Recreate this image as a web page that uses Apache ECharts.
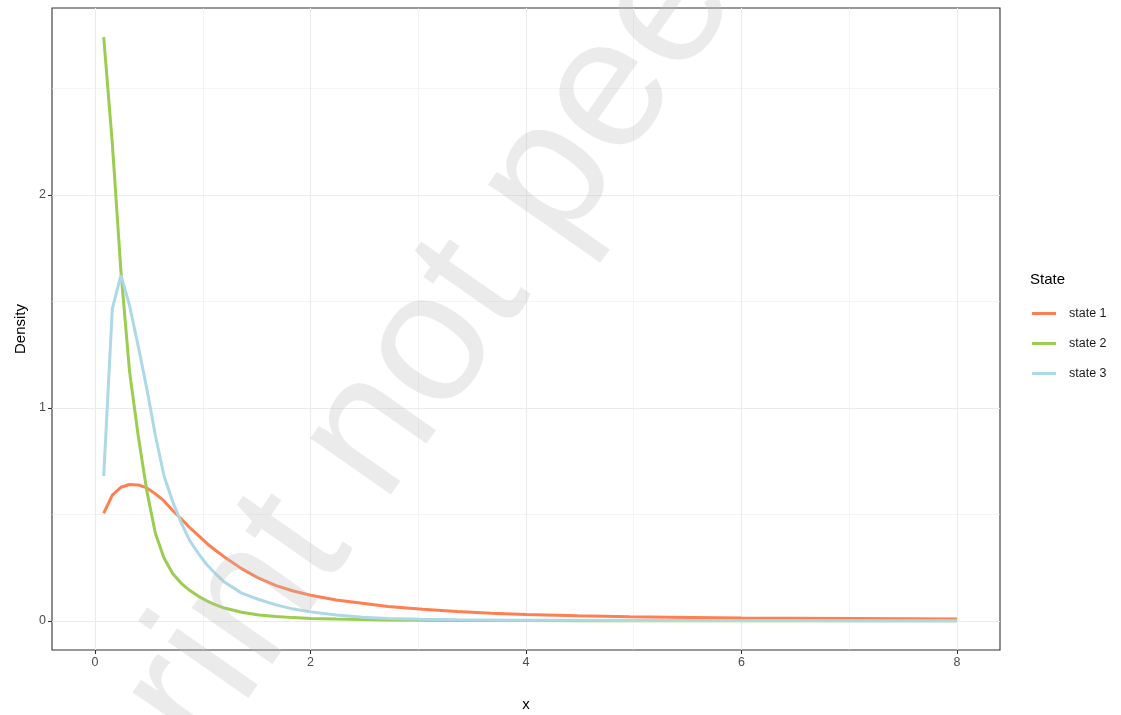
<!DOCTYPE html>
<html>
<head>
<meta charset="utf-8">
<script src="https://cdn.jsdelivr.net/npm/echarts@6/dist/echarts.min.js"></script>
<style>html,body{margin:0;padding:0;background:#fff}#c{width:1121px;height:715px}</style>
</head>
<body>
<div id="c"></div>
<script>
const xValues = [0.08,0.16,0.24,0.32,0.40,0.48,0.56,0.64,0.72,0.80,0.88,0.96,1.04,1.12,1.20,1.36,1.52,1.68,1.84,2.00,2.24,2.48,2.72,3.04,3.36,3.68,4.00,4.48,4.96,5.52,6.00,6.48,7.04,7.52,8.00];
const state1 = [0.505,0.590,0.627,0.640,0.638,0.624,0.596,0.563,0.518,0.478,0.437,0.400,0.362,0.330,0.300,0.245,0.200,0.165,0.140,0.120,0.098,0.082,0.067,0.054,0.044,0.036,0.030,0.024,0.019,0.016,0.013,0.012,0.011,0.010,0.009];
const state2 = [2.74,2.24,1.64,1.17,0.87,0.61,0.41,0.295,0.222,0.176,0.142,0.115,0.093,0.075,0.060,0.040,0.027,0.020,0.015,0.011,0.008,0.006,0.004,0.003,0.002,0.0015,0.001,0.0008,0.0006,0.0004,0.0003,0.0002,0.0002,0.0001,0.0001];
const state3 = [0.68,1.466,1.623,1.48,1.29,1.09,0.87,0.68,0.56,0.46,0.375,0.315,0.262,0.220,0.182,0.130,0.100,0.075,0.055,0.042,0.027,0.017,0.011,0.007,0.005,0.004,0.003,0.0025,0.002,0.0015,0.0012,0.001,0.0008,0.0006,0.0005];
const seriesNames = ['state 1','state 2','state 3'];
const seriesColors = ['#FF7F50','#9ACD50','#ADD8E6'];
const xTicks = [0,2,4,6,8];
const xMinor = [1,3,5,7];
const yTicks = [0,1,2];
const yMinor = [0.5,1.5,2.5];

const FONT = 'Liberation Sans, Arial, sans-serif';
const allY = [state1, state2, state3];
const chart = echarts.init(document.getElementById('c'), null, {renderer:'canvas'});

function hiddenAxis(extra) {
  return Object.assign({
    type:'value', axisLine:{show:false, onZero:false}, axisLabel:{show:false},
    splitLine:{show:true, lineStyle:{color:'#ebebeb', width:0.55}}
  }, extra);
}

chart.setOption({
  animation:false,
  backgroundColor:'#ffffff',
  grid:{left:52, right:121, top:8, bottom:65, outerBoundsMode:'none', containLabel:false, show:true, borderColor:'#333333', borderWidth:1.1, backgroundColor:'transparent'},
  xAxis:[
    {type:'value', min:-0.4, max:8.4, position:'bottom',
     axisLine:{show:false, onZero:false},
     axisTick:{show:true, length:4, customValues:xTicks, lineStyle:{color:'#333333', width:1.1}},
     axisLabel:{customValues:xTicks, color:'#4d4d4d', fontSize:12.5, fontFamily:FONT, margin:6},
     splitLine:{show:true, lineStyle:{color:'#ebebeb', width:1.1}},
     name:'x', nameLocation:'middle', nameGap:47, nameTextStyle:{color:'#000', fontSize:15, fontFamily:FONT}},
    hiddenAxis({min:-0.4, max:8.4, position:'top', axisTick:{show:false, customValues:xMinor}})
  ],
  yAxis:[
    {type:'value', min:-0.137, max:2.877, position:'left',
     axisLine:{show:false, onZero:false},
     axisTick:{show:true, length:4, customValues:yTicks, lineStyle:{color:'#333333', width:1.1}},
     axisLabel:{customValues:yTicks, color:'#4d4d4d', fontSize:12.5, fontFamily:FONT, margin:6},
     splitLine:{show:true, lineStyle:{color:'#ebebeb', width:1.1}},
     name:'Density', nameLocation:'middle', nameGap:23, nameRotate:90, nameTextStyle:{color:'#000', fontSize:15, fontFamily:FONT}},
    hiddenAxis({min:-0.137, max:2.877, position:'right', axisTick:{show:false, customValues:yMinor}})
  ],
  legend:{
    orient:'vertical', left:1032, top:307, padding:0, itemWidth:24, itemHeight:3, itemGap:17, icon:'rect',
    textStyle:{color:'#1a1a1a', fontSize:12.5, fontFamily:FONT, padding:[0,0,0,8]},
    data:seriesNames
  },
  series: seriesNames.map((n,i)=>({
    name:n, type:'line', xAxisIndex:0, yAxisIndex:0, showSymbol:false, symbol:'none', smooth:false,
    lineStyle:{color:seriesColors[i], width:3}, itemStyle:{color:seriesColors[i]},
    data:xValues.map((x,k)=>[x, allY[i][k]]), z:2+i
  })),
  graphic:[
    {type:'text', left:1030, top:272, style:{text:'State', fill:'#000', font:'15px '+FONT}},
    {type:'text', x:564, y:158, rotation:55*Math.PI/180, z:100, silent:true,
     style:{text:'Preprint not peer reviewed', fill:'rgba(190,190,190,0.3)', font:'186px '+FONT, align:'center', verticalAlign:'middle'}}
  ]
});
</script>
</body>
</html>
